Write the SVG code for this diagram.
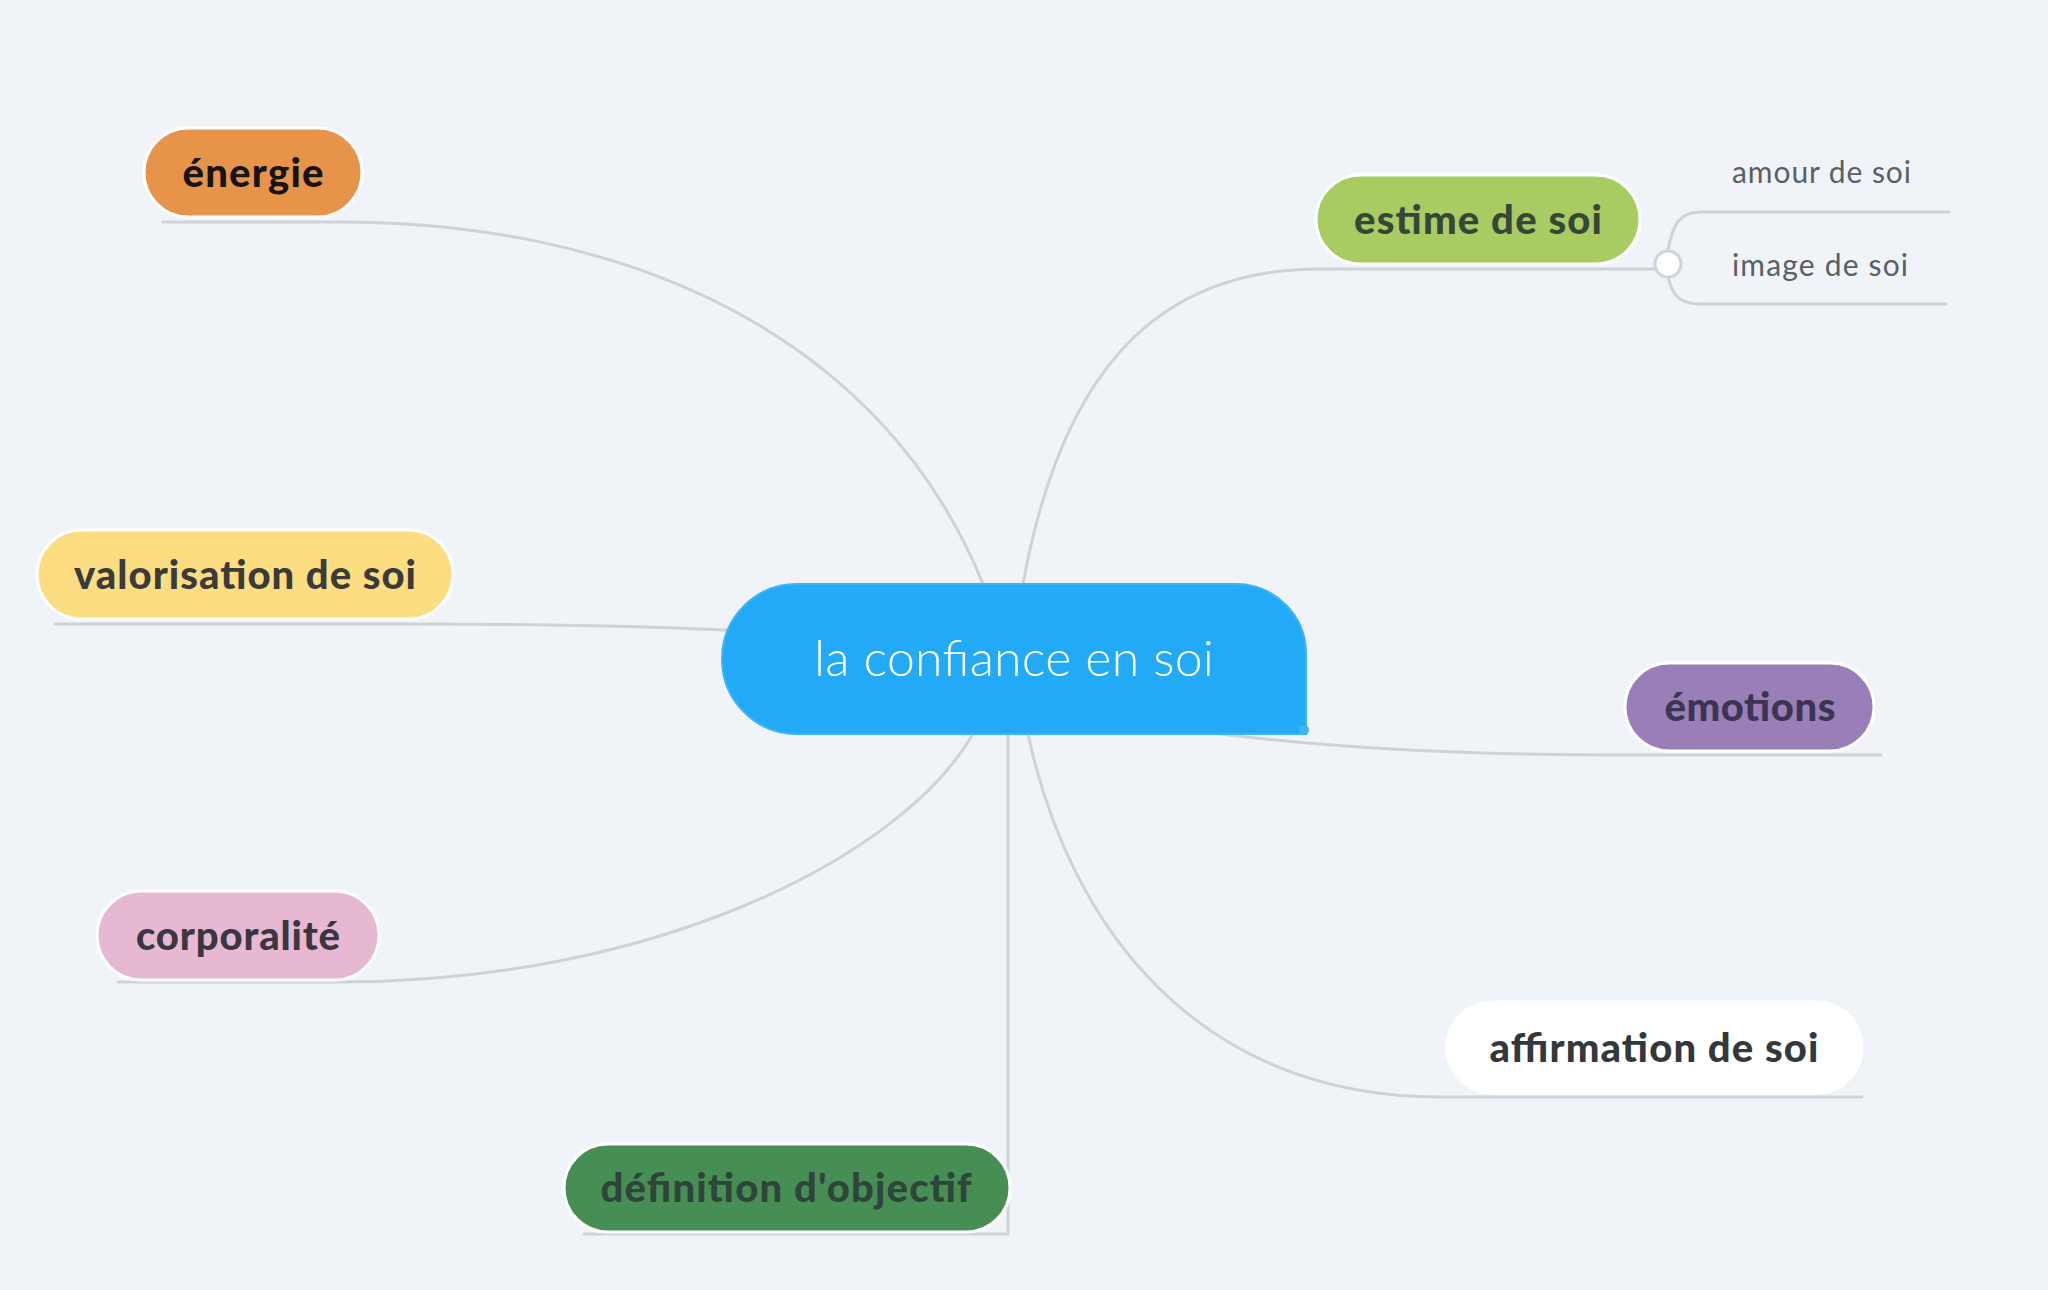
<svg xmlns="http://www.w3.org/2000/svg" width="2048" height="1290" viewBox="0 0 2048 1290">
<style>
.bg{fill:#F0F4F8}
.con{fill:none;stroke:#CFD3D7;stroke-width:3;stroke-linecap:round}
.pill{stroke:#FFFFFF;stroke-width:3}
.lbl{font-family:Lato,"Noto Sans","Liberation Sans",sans-serif;font-weight:900;font-size:40px;text-anchor:middle}
.sub{font-family:Lato,"Noto Sans","Liberation Sans",sans-serif;font-weight:400;font-size:30px;fill:#5A5F63}
.main{font-family:Lato,"Noto Sans","Liberation Sans",sans-serif;font-weight:300;font-size:50px;fill:#FFFFFF;text-anchor:middle}
</style>
<rect class="bg" x="0" y="0" width="2048" height="1290"/>
<g id="connectors">
<path class="con" d="M163,222 H340 C620,222 880,330 983,584"/>
<path class="con" d="M55,624 H420 C600,624 680,628 726,630"/>
<path class="con" d="M118,982 H340 C650,982 900,860 973,734"/>
<path class="con" d="M1008,734 V1234 H584"/>
<path class="con" d="M1023,584 C1060,380 1150,269 1320,269 H1652"/>
<path class="con" d="M1221,734 C1350,750 1500,755 1620,755 H1881"/>
<path class="con" d="M1028,734 C1070,930 1200,1097 1440,1097 H1862"/>
<path class="con" d="M1652,269 H1656"/>
<path class="con" d="M1668,251 C1672,225 1680,212 1700,212 H1949"/>
<path class="con" d="M1668,277 C1672,295 1680,304 1700,304 H1946"/>
<circle cx="1668" cy="264" r="13" fill="#FFFFFF" stroke="#CFD3D7" stroke-width="3"/>
</g>
<g id="center">
<path d="M797,584 H1236 A70,70 0 0 1 1306,654 V734 H797 A75,75 0 0 1 797,584 Z" fill="#22AAF6" stroke="#3DB4F7" stroke-width="2"/>
<circle cx="1304" cy="730" r="5" fill="#3DB4F7"/>
<text class="main" x="1014" y="676" textLength="400">la confiance en soi</text>
</g>
<g id="energie">
<rect class="pill" x="144" y="128" width="218" height="89" rx="44.5" fill="#E8934A"/>
<text class="lbl" x="253" y="187" fill="#151515" textLength="141">énergie</text>
</g>
<g id="valorisation">
<rect class="pill" x="37" y="530" width="416" height="89" rx="44.5" fill="#FCDD82"/>
<text class="lbl" x="245" y="589" fill="#3A3B3A" textLength="342">valorisation de soi</text>
</g>
<g id="corporalite">
<rect class="pill" x="97" y="891" width="282" height="89" rx="44.5" fill="#E6B8D2"/>
<text class="lbl" x="238" y="950" fill="#3B3640" textLength="204">corporalité</text>
</g>
<g id="definition">
<rect class="pill" x="564" y="1144" width="446" height="88" rx="44" fill="#478E54"/>
<text class="lbl" x="786" y="1202" fill="#2F4539" textLength="371">définition d'objectif</text>
</g>
<g id="estime">
<rect class="pill" x="1316" y="175" width="324" height="89" rx="44.5" fill="#A8CB62"/>
<text class="lbl" x="1478" y="234" fill="#38463A" textLength="248">estime de soi</text>
<text class="sub" x="1732" y="183" textLength="179">amour de soi</text>
<text class="sub" x="1732" y="276" textLength="176">image de soi</text>
</g>
<g id="emotions">
<rect class="pill" x="1625" y="663" width="249" height="88" rx="44" fill="#9A7EB8"/>
<text class="lbl" x="1750" y="721" fill="#3C3552" textLength="171">émotions</text>
</g>
<g id="affirmation">
<rect class="pill" x="1447" y="1002" width="415" height="91" rx="45.5" fill="#FFFFFF"/>
<text class="lbl" x="1654" y="1062" fill="#34383B" textLength="329">affirmation de soi</text>
</g>
</svg>
